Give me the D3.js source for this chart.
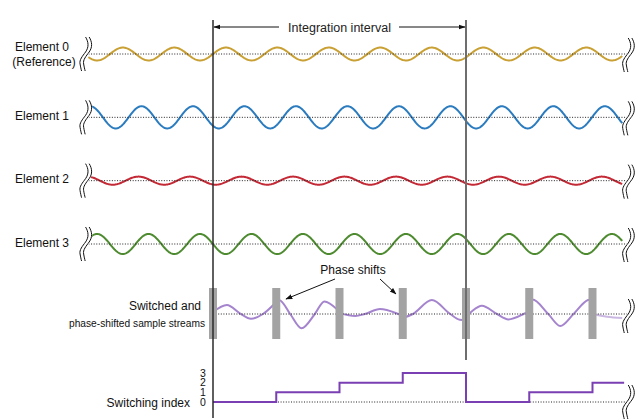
<!DOCTYPE html>
<html>
<head>
<meta charset="utf-8">
<script src="https://cdn.jsdelivr.net/npm/d3@7"></script>
<style>
  html, body { margin: 0; padding: 0; background: #fff; }
  svg { display: block; font-family: "Liberation Sans", Arial, Helvetica, sans-serif; }
</style>
</head>
<body>
<svg id="chart" width="642" height="420"></svg>
<script>
// ---------------- data ----------------
const elementNames = ["Element 0", "Element 1", "Element 2", "Element 3"];
const elementColors = ["#c9a034", "#2b7bbf", "#c42a36", "#4e8b30"];
const elementAmplitude = [0.43, 0.74, 0.27, 0.67];      // relative amplitude
const elementPhaseDeg = [0, 130, 109, 179];             // phase lag vs reference
const carrierPeriod = 0.814;                            // in switching-interval units
const switchTimes = [0, 1, 2, 3, 4, 5, 6];              // switching instants
const switchingIndex = [0, 1, 2, 3, 0, 1, 2];           // active element per interval
const indexTicks = ["0", "1", "2", "3"];
const integrationStart = 0, integrationEnd = 4;
// switched, phase-shifted stream: [time, value] read per interval
const stream0 = [[0, 0.13], [0.22, 0.6], [0.43, 0.03], [0.6, -0.32], [0.79, 0], [1.0, 0.8]];
const stream1 = [[1.0, 0.9], [1.05, 0.92], [1.22, 0], [1.4, -0.95], [1.61, 0], [1.76, 0.84], [1.97, 0.28]];
const stream2 = [[2.0, 0.06], [2.25, -0.13], [2.4, 0], [2.64, 0.33], [2.93, 0], [3.0, -0.12]];
const stream3 = [[3.0, -0.27], [3.16, 0], [3.46, 0.93], [3.75, 0], [3.9, -0.38], [4.0, -0.4]];
const stream4 = [[4.0, -0.12], [4.06, 0.07], [4.25, 0.55], [4.49, 0], [4.67, -0.36], [4.91, 0], [5.0, 0.2]];
const stream5 = [[5.0, 0.9], [5.05, 0.96], [5.3, 0], [5.49, -0.8], [5.7, 0], [5.93, 0.93], [6.0, 0.97]];
const stream6 = [[6.0, 0], [6.23, -0.18], [6.47, -0.27]];
const streams = [stream0, stream1, stream2, stream3, stream4, stream5, stream6];

// ---------------- layout ----------------
const svg = d3.select("#chart");
const tMin = -1.97, tMax = 6.47, tBreakL = -2.01, tBreakR = 6.57;
const x = d3.scaleLinear().domain([integrationStart, integrationEnd]).range([213, 466]);
const row = d3.scalePoint().domain(elementNames).range([54, 244]);
const amp = d3.scaleLinear().domain([-1, 1]).range([15, -15]);
const streamBase = 314;
const yIndex = d3.scaleLinear().domain([0, 3]).range([402, 373]);
const labelFont = 12;

// arrow marker
const defs = svg.append("defs");
defs.append("marker").attr("id", "arr").attr("viewBox", "0 0 10 10")
  .attr("refX", 9).attr("refY", 5).attr("markerWidth", 7).attr("markerHeight", 7)
  .attr("markerUnits", "userSpaceOnUse").attr("orient", "auto")
  .append("path").attr("d", "M0,1.5 L10,5 L0,8.5 Z").attr("fill", "#111");

function dotted(g, x1, x2, y) {
  g.append("line").attr("x1", x1).attr("x2", x2).attr("y1", y).attr("y2", y)
    .attr("stroke", "#222").attr("stroke-width", 1).attr("stroke-dasharray", "1,1.6");
}
function squiggle(cx, cy) {
  const d = "M1.5,-17 C4.5,-12 5,-7 1.5,-2 C-1.5,2 -5,6 -4,10 C-3.5,13 -3,15 -2.5,17";
  const g = svg.append("g").attr("transform", `translate(${cx},${cy})`);
  g.append("path").attr("d", d).attr("fill", "none").attr("stroke", "#fff").attr("stroke-width", 5);
  [-1.8, 1.8].forEach(dx => g.append("path").attr("d", d).attr("transform", `translate(${dx},0)`)
    .attr("fill", "none").attr("stroke", "#111").attr("stroke-width", 1));
}

// ---------------- element rows ----------------
const ts = d3.range(tMin, tMax + 1e-9, 0.01);
elementNames.forEach((name, i) => {
  const base = row(name);
  const g = svg.append("g");
  const line = d3.line()
    .x(t => x(t))
    .y(t => base + amp(elementAmplitude[i] * Math.sin(2 * Math.PI * t / carrierPeriod - elementPhaseDeg[i] * Math.PI / 180)));
  g.append("path").attr("d", line(ts)).attr("fill", "none")
    .attr("stroke", elementColors[i]).attr("stroke-width", 2);
  dotted(g, x(tBreakL), x(tBreakR), base);
  squiggle(x(tBreakL), base);
  squiggle(x(tBreakR), base + 1);
  const lbl = svg.append("text").attr("x", 42).attr("text-anchor", "middle")
    .attr("font-size", labelFont).attr("fill", "#111");
  if (i === 0) {
    lbl.append("tspan").attr("x", 42).attr("y", base - 3).text(name);
    lbl.append("tspan").attr("x", 44).attr("y", base + 11.5).text("(Reference)");
  } else {
    lbl.attr("y", base + 2.5).text(name);
  }
});

// ---------------- switched stream ----------------
const sLine = d3.line().x(d => x(d[0])).y(d => streamBase + amp(d[1])).curve(d3.curveMonotoneX);
streams.forEach((s, k) => {
  svg.append("path").attr("d", sLine(s)).attr("fill", "none")
    .attr("stroke", "#a07dcb").attr("stroke-width", 2)
    .attr("stroke-opacity", k === streams.length - 1 ? 0.55 : 0.95);
});
dotted(svg, x(0), x(tBreakR), streamBase);
svg.selectAll("rect.sw").data(switchTimes).join("rect").attr("class", "sw")
  .attr("x", d => x(d) - 4).attr("width", 8)
  .attr("y", streamBase - 26).attr("height", 51).attr("fill", "#a3a3a3");
squiggle(x(tBreakR), streamBase + 2);
svg.append("text").attr("x", 201).attr("y", streamBase - 4).attr("text-anchor", "end")
  .attr("font-size", labelFont).attr("fill", "#111").text("Switched and");
svg.append("text").attr("x", 69).attr("y", streamBase + 13).attr("text-anchor", "start")
  .attr("font-size", 11.5).attr("fill", "#111")
  .attr("textLength", 136).attr("lengthAdjust", "spacingAndGlyphs")
  .text("phase-shifted sample streams");

// Phase-shift annotation
svg.append("text").attr("x", 353).attr("y", 274).attr("text-anchor", "middle")
  .attr("font-size", labelFont).attr("fill", "#111").text("Phase shifts");
svg.append("line").attr("x1", 335).attr("y1", 279).attr("x2", 286).attr("y2", 299)
  .attr("stroke", "#111").attr("stroke-width", 1).attr("marker-end", "url(#arr)");
svg.append("line").attr("x1", 380).attr("y1", 279).attr("x2", 396).attr("y2", 294)
  .attr("stroke", "#111").attr("stroke-width", 1).attr("marker-end", "url(#arr)");

// ---------------- switching index ----------------
const stepPts = switchTimes.map((t, k) => [t, switchingIndex[k]]);
stepPts.push([tBreakR - 0.07, switchingIndex[switchingIndex.length - 1]]);
dotted(svg, x(0), x(tBreakR), yIndex(0));
svg.append("path").attr("d", d3.line().x(d => x(d[0])).y(d => yIndex(d[1])).curve(d3.curveStepAfter)(stepPts))
  .attr("fill", "none").attr("stroke", "#7a3fb2").attr("stroke-width", 2);
svg.selectAll("text.tick").data(indexTicks).join("text").attr("class", "tick")
  .attr("x", 203).attr("y", (d, i) => yIndex(i)).attr("dy", "0.36em")
  .attr("text-anchor", "middle").attr("font-size", 10.5).attr("fill", "#111").text(d => d);
svg.append("text").attr("x", 190).attr("y", yIndex(0) + 4.5).attr("text-anchor", "end")
  .attr("font-size", labelFont).attr("fill", "#111").text("Switching index");
squiggle(x(tBreakR), yIndex(0));

// ---------------- integration interval ----------------
svg.append("line").attr("x1", x(integrationStart)).attr("x2", x(integrationStart))
  .attr("y1", 20).attr("y2", 418).attr("stroke", "#2a2a2a").attr("stroke-width", 1.5);
svg.append("line").attr("x1", x(integrationEnd)).attr("x2", x(integrationEnd))
  .attr("y1", 20).attr("y2", 360).attr("stroke", "#6e6e6e").attr("stroke-width", 2);
const midX = (x(integrationStart) + x(integrationEnd)) / 2;
svg.append("line").attr("x1", 279).attr("x2", x(integrationStart) + 1).attr("y1", 27).attr("y2", 27)
  .attr("stroke", "#111").attr("stroke-width", 1).attr("marker-end", "url(#arr)");
svg.append("line").attr("x1", 399).attr("x2", x(integrationEnd) - 1).attr("y1", 27).attr("y2", 27)
  .attr("stroke", "#111").attr("stroke-width", 1).attr("marker-end", "url(#arr)");
svg.append("text").attr("x", midX).attr("y", 31.5).attr("text-anchor", "middle")
  .attr("font-size", 12.5).attr("fill", "#222").text("Integration interval");
</script>
</body>
</html>
